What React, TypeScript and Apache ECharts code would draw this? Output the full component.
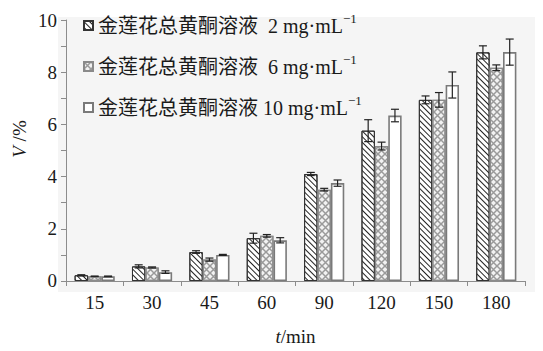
import React, { useEffect, useRef } from "react";
import * as echarts from "echarts";

const categories = ["15", "30", "45", "60", "90", "120", "150", "180"];
const seriesNames = [
  "金莲花总黄酮溶液  2 mg·mL",
  "金莲花总黄酮溶液  6 mg·mL",
  "金莲花总黄酮溶液 10 mg·mL",
];
const values2 = [0.22, 0.56, 1.11, 1.64, 4.1, 5.76, 6.94, 8.76];
const errors2 = [0.02, 0.06, 0.05, 0.19, 0.06, 0.42, 0.15, 0.25];
const values6 = [0.18, 0.52, 0.82, 1.73, 3.5, 5.17, 6.94, 8.17];
const errors6 = [0.01, 0.02, 0.06, 0.05, 0.05, 0.15, 0.28, 0.11];
const values10 = [0.18, 0.34, 1.0, 1.56, 3.75, 6.34, 7.51, 8.77];
const errors10 = [0.01, 0.05, 0.02, 0.1, 0.12, 0.24, 0.5, 0.5];
const yTicks = [0, 2, 4, 6, 8, 10];

const FONT = "'Liberation Serif', 'Times New Roman', 'Noto Sans CJK SC', serif";

export default function App() {
  const ref = useRef<HTMLDivElement>(null);
  useEffect(() => {
    if (!ref.current) return;
    const chart = echarts.init(ref.current, undefined, { renderer: "svg" });
    const allVals = [values2, values6, values10];
    const allErrs = [errors2, errors6, errors10];

    const barStyles = [
      {
        color: "#ffffff",
        borderColor: "#333333",
        borderWidth: 1,
        decal: {
          symbol: "rect",
          symbolSize: 1,
          dashArrayX: [1, 0],
          dashArrayY: [1, 2.3],
          rotation: Math.PI / 4,
          color: "#222222",
        },
      },
      {
        color: "#f2f2f2",
        borderColor: "#8a8a8a",
        borderWidth: 1.2,
        decal: {
          symbol:
            "path://M0 0 L1.5 0 L10 8.5 L10 10 L8.5 10 L0 1.5 Z M8.5 0 L10 0 L10 1.5 L1.5 10 L0 10 L0 8.5 Z",
          symbolSize: 1,
          dashArrayX: [7, 0],
          dashArrayY: [7, 0],
          color: "#9a9a9a",
        },
      },
      {
        color: "#ffffff",
        borderColor: "#7a7a7a",
        borderWidth: 1.6,
      },
    ];

    const barSeries = seriesNames.map((name, k) => ({
      name,
      type: "bar",
      data: allVals[k],
      barGap: "0%",
      barCategoryGap: "30%",
      itemStyle: barStyles[k],
      z: 3,
    }));

    const errSeries = seriesNames.map((name, k) => ({
      name: name + "-err",
      type: "custom",
      z: 5,
      data: allVals[k].map((v, i) => [i, v, allErrs[k][i]]),
      encode: { x: 0, y: 1 },
      renderItem: (_params: any, api: any) => {
        const ci = api.value(0);
        const v = api.value(1);
        const e = api.value(2);
        const catW = api.size([1, 0])[0];
        const bw = (catW * 0.7) / 3;
        const c = api.coord([ci, v]);
        const x = c[0] + (k - 1) * bw;
        const top = api.coord([ci, v + e])[1];
        const bot = api.coord([ci, v - e])[1];
        const hw = 4;
        const st = { stroke: "#222222", lineWidth: 1.2 };
        return {
          type: "group",
          children: [
            { type: "line", shape: { x1: x, y1: top, x2: x, y2: bot }, style: st },
            { type: "line", shape: { x1: x - hw, y1: top, x2: x + hw, y2: top }, style: st },
            { type: "line", shape: { x1: x - hw, y1: bot, x2: x + hw, y2: bot }, style: st },
          ],
        };
      },
    }));

    chart.setOption({
      animation: false,
      backgroundColor: "#ffffff",
      textStyle: { fontFamily: FONT },
      grid: { left: 66, right: 18, top: 20, bottom: 66, containLabel: false },
      graphic: {
        elements: [
          {
            type: "rect",
            x: 58,
            y: 17,
            shape: { x: 0, y: 0, width: 485, height: 275 },
            style: { fill: "#f5f5f5" },
            z: 0,
            silent: true,
          },
          {
            type: "text",
            x: 19,
            y: 139,
            rotation: Math.PI / 2,
            style: {
              text: "{i|V} /%",
              fontFamily: FONT,
              fontSize: 19,
              fill: "#1a1a1a",
              align: "center",
              verticalAlign: "middle",
              rich: {
                i: { fontStyle: "italic", fontFamily: FONT, fontSize: 19, fill: "#1a1a1a" },
              },
            },
            z: 10,
          },
        ],
      },
      legend: {
        data: seriesNames,
        orient: "vertical",
        left: 78,
        top: 7,
        icon: "path://M0 0 L10 0 L10 10 L0 10 Z",
        itemWidth: 9,
        itemHeight: 9,
        itemGap: 14,
        z: 10,
        formatter: (n: string) => `{a|${n}}{s|−1}`,
        textStyle: {
          fontFamily: FONT,
          color: "#1a1a1a",
          rich: {
            a: { fontSize: 20, lineHeight: 27, fontFamily: FONT, color: "#1a1a1a" },
            s: { fontSize: 13, lineHeight: 13, padding: [0, 0, 14, 0], fontFamily: FONT, color: "#1a1a1a" },
          },
        },
      },
      xAxis: {
        type: "category",
        data: categories,
        z: 2,
        name: "{i|t}/min",
        nameLocation: "middle",
        nameGap: 46,
        nameTextStyle: {
          fontFamily: FONT,
          fontSize: 19,
          color: "#1a1a1a",
          rich: { i: { fontStyle: "italic", fontFamily: FONT, fontSize: 19, color: "#1a1a1a" } },
        },
        axisLine: { lineStyle: { color: "#8c8c8c", width: 1 } },
        axisTick: { show: true, alignWithLabel: false, length: 5, lineStyle: { color: "#8c8c8c" } },
        axisLabel: { fontFamily: FONT, fontSize: 19, color: "#1a1a1a", margin: 12 },
        splitLine: { show: false },
      },
      yAxis: {
        type: "value",
        min: 0,
        max: 10,
        interval: 1,
        z: 2,
        axisLine: { show: true, lineStyle: { color: "#8c8c8c", width: 1 } },
        axisTick: { show: true, length: 5, lineStyle: { color: "#8c8c8c" } },
        axisLabel: {
          fontFamily: FONT,
          fontSize: 19,
          color: "#1a1a1a",
          margin: 9,
          formatter: (v: number) => (yTicks.includes(v) ? String(v) : ""),
        },
        splitLine: { show: false },
      },
      series: [...barSeries, ...errSeries],
    });
    return () => chart.dispose();
  }, []);
  return <div ref={ref} style={{ width: 543, height: 351, margin: -8 }} />;
}
